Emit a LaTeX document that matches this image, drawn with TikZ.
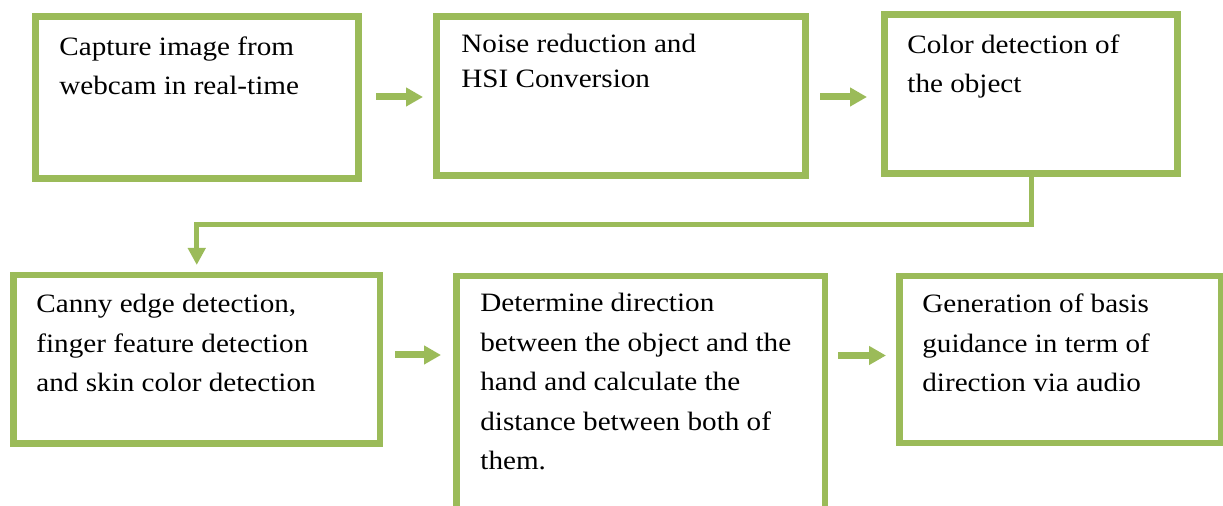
\documentclass[tikz,border=0pt]{standalone}
\usepackage{fontspec}
\setmainfont{Liberation Serif}[FakeStretch=1.1]
\usetikzlibrary{arrows.meta}
\definecolor{boxgreen}{RGB}{155,187,89}
\begin{document}
\begin{tikzpicture}[x=0.5pt,y=-0.5pt,
  box/.style={draw=boxgreen,line width=3.25pt,outer sep=0pt,inner sep=0pt,anchor=north west},
  txt/.style={anchor=base west,inner sep=0pt,align=left,font=\fontsize{13.25pt}{19.75pt}\selectfont},
  flow/.style={draw=boxgreen,line width=3.5pt,-{Triangle[length=8.5pt,width=9pt]}},
  turn/.style={draw=boxgreen,line width=2.5pt,-{Triangle[length=8.5pt,width=8.5pt]}}]
\clip (0,0) rectangle (1223,506);
\fill[white] (0,0) rectangle (1223,506);
% boxes
\node[box,minimum width=161.5pt,minimum height=81pt] (b1) at (35.5,16.5) {};
\node[box,minimum width=184.5pt,minimum height=79.5pt] (b2) at (436.5,16.5) {};
\node[box,minimum width=146.5pt,minimum height=79.5pt] (b3) at (884.5,14.5) {};
\node[box,minimum width=183.25pt,minimum height=84.25pt] (b4) at (13.5,275) {};
\node[box,minimum width=184.25pt,minimum height=127pt] (b5) at (456.5,276) {};
\node[box,minimum width=160.75pt,minimum height=83.5pt] (b6) at (899.5,276) {};
% texts (anchored at the baseline of their last line)
\node[txt] (t1) at (59,95) {Capture image from\\webcam in real-time};
\node[txt,font=\fontsize{13.25pt}{17.5pt}\selectfont] (t2) at (461,88) {Noise reduction and\\HSI Conversion};
\node[txt] (t3) at (907,93) {Color detection of\\the object};
\node[txt] (t4) at (36,392) {Canny edge detection,\\finger feature detection\\and skin color detection};
\node[txt] (t5) at (480,470) {Determine direction\\between the object and the\\hand and calculate the\\distance between both of\\them.};
\node[txt] (t6) at (922,392) {Generation of basis\\guidance in term of\\direction via audio};
% connectors
\draw[flow,shorten <=8.75pt,shorten >=6.75pt] (b1.east |- 0,97) -- (b2.west |- 0,97);
\draw[flow,shorten <=7.25pt,shorten >=8.75pt] (b2.east |- 0,97) -- (b3.west |- 0,97);
\draw[turn,shorten >=5pt] (b3.south) -- (b3.south |- 0,224.5) -| (b4.north);
\draw[flow,shorten <=7.5pt,shorten >=7.75pt] (b4.east |- 0,355) -- (b5.west |- 0,355);
\draw[flow,shorten <=6.5pt,shorten >=6.75pt] (b5.east |- 0,355.5) -- (b6.west |- 0,355.5);
\end{tikzpicture}
\end{document}
